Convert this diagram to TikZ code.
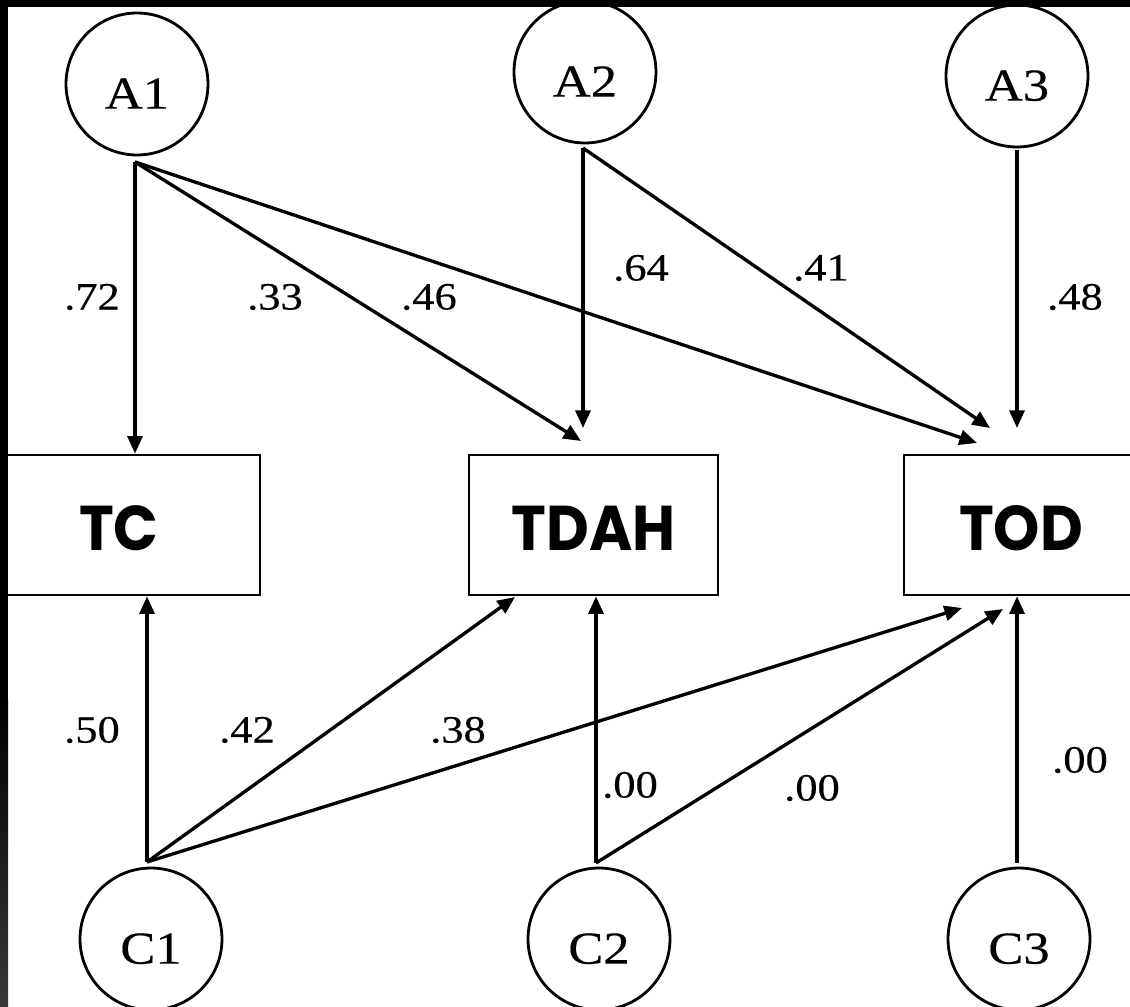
\documentclass[tikz,border=0pt]{standalone}
\usepackage{fontspec}
\setmainfont{Liberation Serif}
\newfontfamily\labelfont{Liberation Serif}[FakeStretch=1.15, FakeBold=0.4]
\newfontfamily\boxfont{Poppins}[FakeStretch=0.93]
\usetikzlibrary{arrows.meta,calc}

\begin{document}
\begin{tikzpicture}[x=0.02cm,y=-0.02cm,
  latent/.style={draw, circle, line width=1.6pt, minimum size=2.84cm,
    inner sep=0pt, text height=28pt, text depth=0pt,
    font=\labelfont\fontsize{26}{28}\selectfont},
  observed/.style={draw, rectangle, line width=1.6pt, minimum height=2.8cm,
    inner sep=0pt, text height=29pt, text depth=0pt,
    font=\boxfont\bfseries\fontsize{36}{40}\selectfont},
  pathway/.style={-{Triangle[length=10pt,width=8.5pt]}, line width=1.9pt},
  coef/.style={inner sep=0pt, font=\labelfont\fontsize{22}{24}\selectfont}]

\useasboundingbox (0,0) rectangle (1130,1007);

% observed variables
\node[observed, minimum width=5.64cm] (TC)   at (119,525)  {TC};
\node[observed, minimum width=4.98cm] (TDAH) at (593.5,525) {TDAH};
\node[observed, minimum width=4.68cm] (TOD)  at (1021,525) {TOD};

% latent factors
\node[latent] (A1) at (137,84) {A1};
\node[latent] (A2) at (585,72) {A2};
\node[latent] (A3) at (1017,76) {A3};
\node[latent] (C1) at (151,939) {C1};
\node[latent] (C2) at (599,939) {C2};
\node[latent] (C3) at (1019,939) {C3};

% path origins just outside the circles
\coordinate (a1o) at (135,162);
\coordinate (a2o) at (583,148);
\coordinate (a3o) at (1017,150);
\coordinate (c1o) at (147,862);
\coordinate (c2o) at (596,863);
\coordinate (c3o) at (1017,863);

% arrow tips
\coordinate (tdahA1) at (581,441);
\coordinate (tdahA2) at (a2o |- 0,428);
\coordinate (todA1) at (977,443);
\coordinate (todA2) at (990,428);
\coordinate (todA3) at (a3o |- 0,428);
\coordinate (tdahC1) at (515,597);
\coordinate (todC1) at (962,608);
\coordinate (todC2) at (1003,609);

% paths from A factors
\draw[pathway] (a1o) -- (a1o |- TC.north);
\draw[pathway] (a1o) -- (tdahA1);
\draw[pathway] (a1o) -- (todA1);
\draw[pathway] (a2o) -- (tdahA2);
\draw[pathway] (a2o) -- (todA2);
\draw[pathway] (a3o) -- (todA3);

% paths from C factors
\draw[pathway] (c1o) -- (c1o |- TC.south);
\draw[pathway] (c1o) -- (tdahC1);
\draw[pathway] (c1o) -- (todC1);
\draw[pathway] (c2o) -- (c2o |- TDAH.south);
\draw[pathway] (c2o) -- (todC2);
\draw[pathway] (c3o) -- (c3o |- TOD.south);

% loadings
\node[coef] (l1)  at (92,297)   {.72};
\node[coef] (l2)  at (275,297)  {.33};
\node[coef] (l3)  at (429,297)  {.46};
\node[coef] (l4)  at (641,268)  {.64};
\node[coef] (l5)  at (821,268)  {.41};
\node[coef] (l6)  at (1075,297) {.48};
\node[coef] (l7)  at (92,730)   {.50};
\node[coef] (l8)  at (247,730)  {.42};
\node[coef] (l9)  at (458,730)  {.38};
\node[coef] (l10) at (630,785)  {.00};
\node[coef] (l11) at (812,788)  {.00};
\node[coef] (l12) at (1080,760) {.00};

% dark frame along the top and left edges
\fill[black] (0,0) rectangle (1130,7);
\fill[black] (0,0) rectangle (8,700);
\shade[top color=black, bottom color=black!78!white] (0,700) rectangle (8,1007);
\end{tikzpicture}
\end{document}
